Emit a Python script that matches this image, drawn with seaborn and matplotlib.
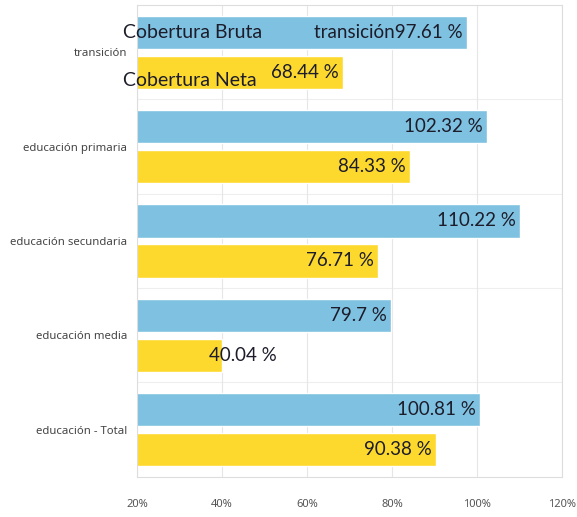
import pandas as pd
import matplotlib
matplotlib.use("Agg")
import matplotlib.pyplot as plt
import seaborn as sns

# Data
categorias = ["transición", "educación primaria", "educación secundaria",
              "educación media", "educación - Total"]
cobertura_bruta = [97.61, 102.32, 110.22, 79.7, 100.81]
cobertura_neta = [68.44, 84.33, 76.71, 40.04, 90.38]
series = ["Cobertura Bruta", "Cobertura Neta"]
colores = ["#7fc1e1", "#fdd92e"]
ticks_x = [20, 40, 60, 80, 100, 120]

df = pd.DataFrame({
    "categoria": categorias * 2,
    "valor": cobertura_bruta + cobertura_neta,
    "serie": [series[0]] * len(categorias) + [series[1]] * len(categorias),
})

sns.set_style("white")
fig = plt.figure(figsize=(5.77, 5.17), dpi=100)
ax = fig.add_axes([0.2374, 0.078, 0.7366, 0.912])

sns.barplot(data=df, y="categoria", x="valor", hue="serie", orient="h",
            palette=colores, width=0.85, gap=0.17, saturation=1,
            legend=False, ax=ax)

ax.set_xlim(20, 120)
ax.set_ylim(len(categorias) - 0.5, -0.5)
ax.set_xticks(ticks_x)
ax.set_xticklabels([f"{t}%" for t in ticks_x], fontsize=8, color="#555555",
                   family="Noto Sans")
ax.tick_params(axis="x", length=0, pad=16)
ax.tick_params(axis="y", length=4, color="#bbbbbb", labelsize=8.2,
               labelcolor="#444444", pad=3)
for lbl in ax.get_yticklabels():
    lbl.set_family("Noto Sans")
ax.set_xlabel("")
ax.set_ylabel("")

# light grid and frame
ax.grid(axis="x", color="#e6e6e6", linewidth=0.8)
ax.set_axisbelow(True)
for i in range(len(categorias) - 1):
    ax.axhline(i + 0.5, color="#eeeeee", linewidth=0.8, zorder=0)
for s in ax.spines.values():
    s.set_color("#dddddd")
    s.set_linewidth(0.8)

# value labels
etiqueta = dict(fontsize=13.5, color="#1c1c2a", family="Lato", va="center", ha="right")
for cont, vals in zip(ax.containers, [cobertura_bruta, cobertura_neta]):
    for i, (bar, v) in enumerate(zip(cont, vals)):
        y = bar.get_y() + bar.get_height() / 2
        txt = f"{v:g} %"
        if cont is ax.containers[0] and i == 0:
            txt = categorias[0] + txt
        ax.text(max(v, 54) - 1, y, txt, **etiqueta)

# series names written over the first group
b0 = ax.containers[0][0]
n0 = ax.containers[1][0]
ax.text(33, b0.get_y() + b0.get_height() / 2, series[0], fontsize=14,
        color="#1c1c2a", family="Lato", ha="center", va="center")
ax.text(32.5, n0.get_y() + n0.get_height() * 0.75, series[1], fontsize=14,
        color="#1c1c2a", family="Lato", ha="center", va="center")
for t in ax.texts[-2:]:
    t.set_clip_on(False)

fig.savefig("out.png", dpi=100)
